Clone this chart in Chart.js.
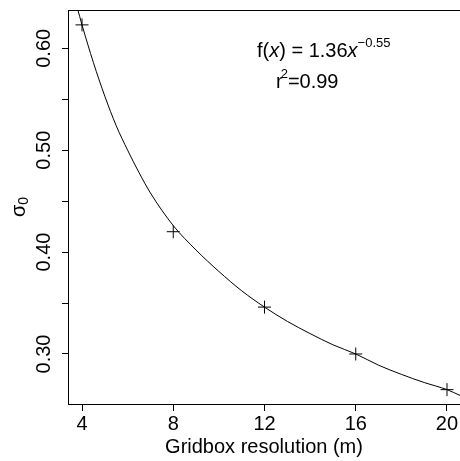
<!DOCTYPE html>
<html>
<head>
<meta charset="utf-8">
<script src="https://cdn.jsdelivr.net/npm/chart.js@4.4.1/dist/chart.umd.min.js"></script>
<style>
body{margin:0;background:#fff;}
canvas{display:block;}
</style>
</head>
<body>
<canvas id="chart" width="460" height="461"></canvas>
<script>
// measured points (crosses)
const resolution = [4, 8, 12, 16, 20];
const sigma0 = [0.623, 0.420, 0.346, 0.300, 0.265];
// fitted curve
const curveX = [3.79, 4, 4.5, 5, 5.5, 6, 6.5, 7, 8, 9, 10, 11, 12, 13, 14, 15, 16, 17, 18, 19, 20, 20.6];
const curveY = [0.640, 0.623, 0.586, 0.553, 0.524, 0.500, 0.478, 0.458, 0.426, 0.402, 0.381, 0.362, 0.346, 0.332, 0.320, 0.309, 0.300, 0.289, 0.280, 0.272, 0.265, 0.259];
const xTicks = [4, 8, 12, 16, 20];
const yTicks = [0.30, 0.35, 0.40, 0.45, 0.50, 0.55, 0.60];
const yLabels = ['0.30', '', '0.40', '', '0.50', '', '0.60'];

const FONT = "'Liberation Sans', Arial, Helvetica, sans-serif";

const extras = {
    id: 'extras',
    afterDraw(chart) {
        const ctx = chart.ctx;
        const area = chart.chartArea;
        const y = chart.scales.y;
        ctx.save();
        ctx.strokeStyle = '#000';
        ctx.lineWidth = 1;
        // top side of the box
        ctx.beginPath();
        ctx.moveTo(area.left, area.top + 0.5);
        ctx.lineTo(area.right, area.top + 0.5);
        ctx.stroke();

        // rotated y tick labels
        ctx.fillStyle = '#000';
        ctx.font = '20px ' + FONT;
        ctx.textAlign = 'center';
        ctx.textBaseline = 'alphabetic';
        yTicks.forEach((v, i) => {
            if (!yLabels[i]) return;
            const py = y.getPixelForValue(v);
            ctx.save();
            ctx.translate(50, py);
            ctx.rotate(-Math.PI / 2);
            ctx.fillText(yLabels[i], 0, 0);
            ctx.restore();
        });

        // y title: sigma with subscript 0
        ctx.save();
        ctx.translate(25, (area.top + area.bottom) / 2);
        ctx.rotate(-Math.PI / 2);
        ctx.textAlign = 'left';
        ctx.font = '20px ' + FONT;
        const wS = ctx.measureText('\u03c3').width;
        ctx.font = '14px ' + FONT;
        const w0 = ctx.measureText('0').width;
        let sx = -(wS + w0) / 2;
        ctx.font = '20px ' + FONT;
        ctx.fillText('\u03c3', sx, 0);
        ctx.font = '14px ' + FONT;
        ctx.fillText('0', sx + wS, 3);
        ctx.restore();

        // fit annotation
        ctx.textAlign = 'left';
        let tx = 257;
        const parts = [
            ['f(', '20px ' + FONT, 0],
            ['x', 'italic 20px ' + FONT, 0],
            [') = 1.36', '20px ' + FONT, 0],
            ['x', 'italic 20px ' + FONT, 0],
            ['\u22120.55', '13px ' + FONT, -10]
        ];
        parts.forEach(p => {
            ctx.font = p[1];
            ctx.fillText(p[0], tx, 57 + p[2]);
            tx += ctx.measureText(p[0]).width;
        });
        tx = 276;
        ctx.font = '20px ' + FONT;
        ctx.fillText('r', tx, 88);
        tx += ctx.measureText('r').width - 2;
        ctx.font = '13px ' + FONT;
        ctx.fillText('2', tx, 78);
        tx += ctx.measureText('2').width;
        ctx.font = '20px ' + FONT;
        ctx.fillText('=0.99', tx, 88);
        ctx.restore();
    }
};

new Chart(document.getElementById('chart').getContext('2d'), {
    type: 'line',
    data: {
        datasets: [
            {
                data: curveX.map((x, i) => ({x: x, y: curveY[i]})),
                borderColor: '#000',
                borderWidth: 1,
                pointRadius: 0,
                cubicInterpolationMode: 'monotone',
                fill: false
            },
            {
                data: resolution.map((x, i) => ({x: x, y: sigma0[i]})),
                showLine: false,
                pointStyle: 'cross',
                pointRadius: 6.5,
                borderColor: '#000',
                borderWidth: 1
            }
        ]
    },
    options: {
        responsive: false,
        animation: false,
        devicePixelRatio: 1,
        layout: {autoPadding: false, padding: {top: 10, right: 0, left: 0, bottom: 0}},
        plugins: {legend: {display: false}, tooltip: {enabled: false}},
        scales: {
            x: {
                type: 'linear',
                min: 3.386,
                max: 20.57,
                afterBuildTicks: s => { s.ticks = xTicks.map(v => ({value: v})); },
                afterFit: s => { s.height = 57; s.paddingLeft = 0; s.paddingRight = 0; },
                grid: {drawOnChartArea: false, drawTicks: true, tickLength: 7, color: '#000'},
                border: {display: true, color: '#000', width: 1},
                ticks: {color: '#000', font: {size: 20, family: FONT}, padding: 1, maxRotation: 0, autoSkip: false},
                title: {display: true, text: 'Gridbox resolution (m)', color: '#000', font: {size: 20, family: FONT}, padding: {top: 0, bottom: 2}}
            },
            y: {
                type: 'linear',
                min: 0.2509,
                max: 0.6376,
                afterBuildTicks: s => { s.ticks = yTicks.map(v => ({value: v})); },
                afterFit: s => { s.width = 68; s.paddingTop = 0; s.paddingBottom = 0; },
                grid: {drawOnChartArea: false, drawTicks: true, tickLength: 6, color: '#000'},
                border: {display: true, color: '#000', width: 1},
                ticks: {display: false}
            }
        }
    },
    plugins: [extras]
});
</script>
</body>
</html>
